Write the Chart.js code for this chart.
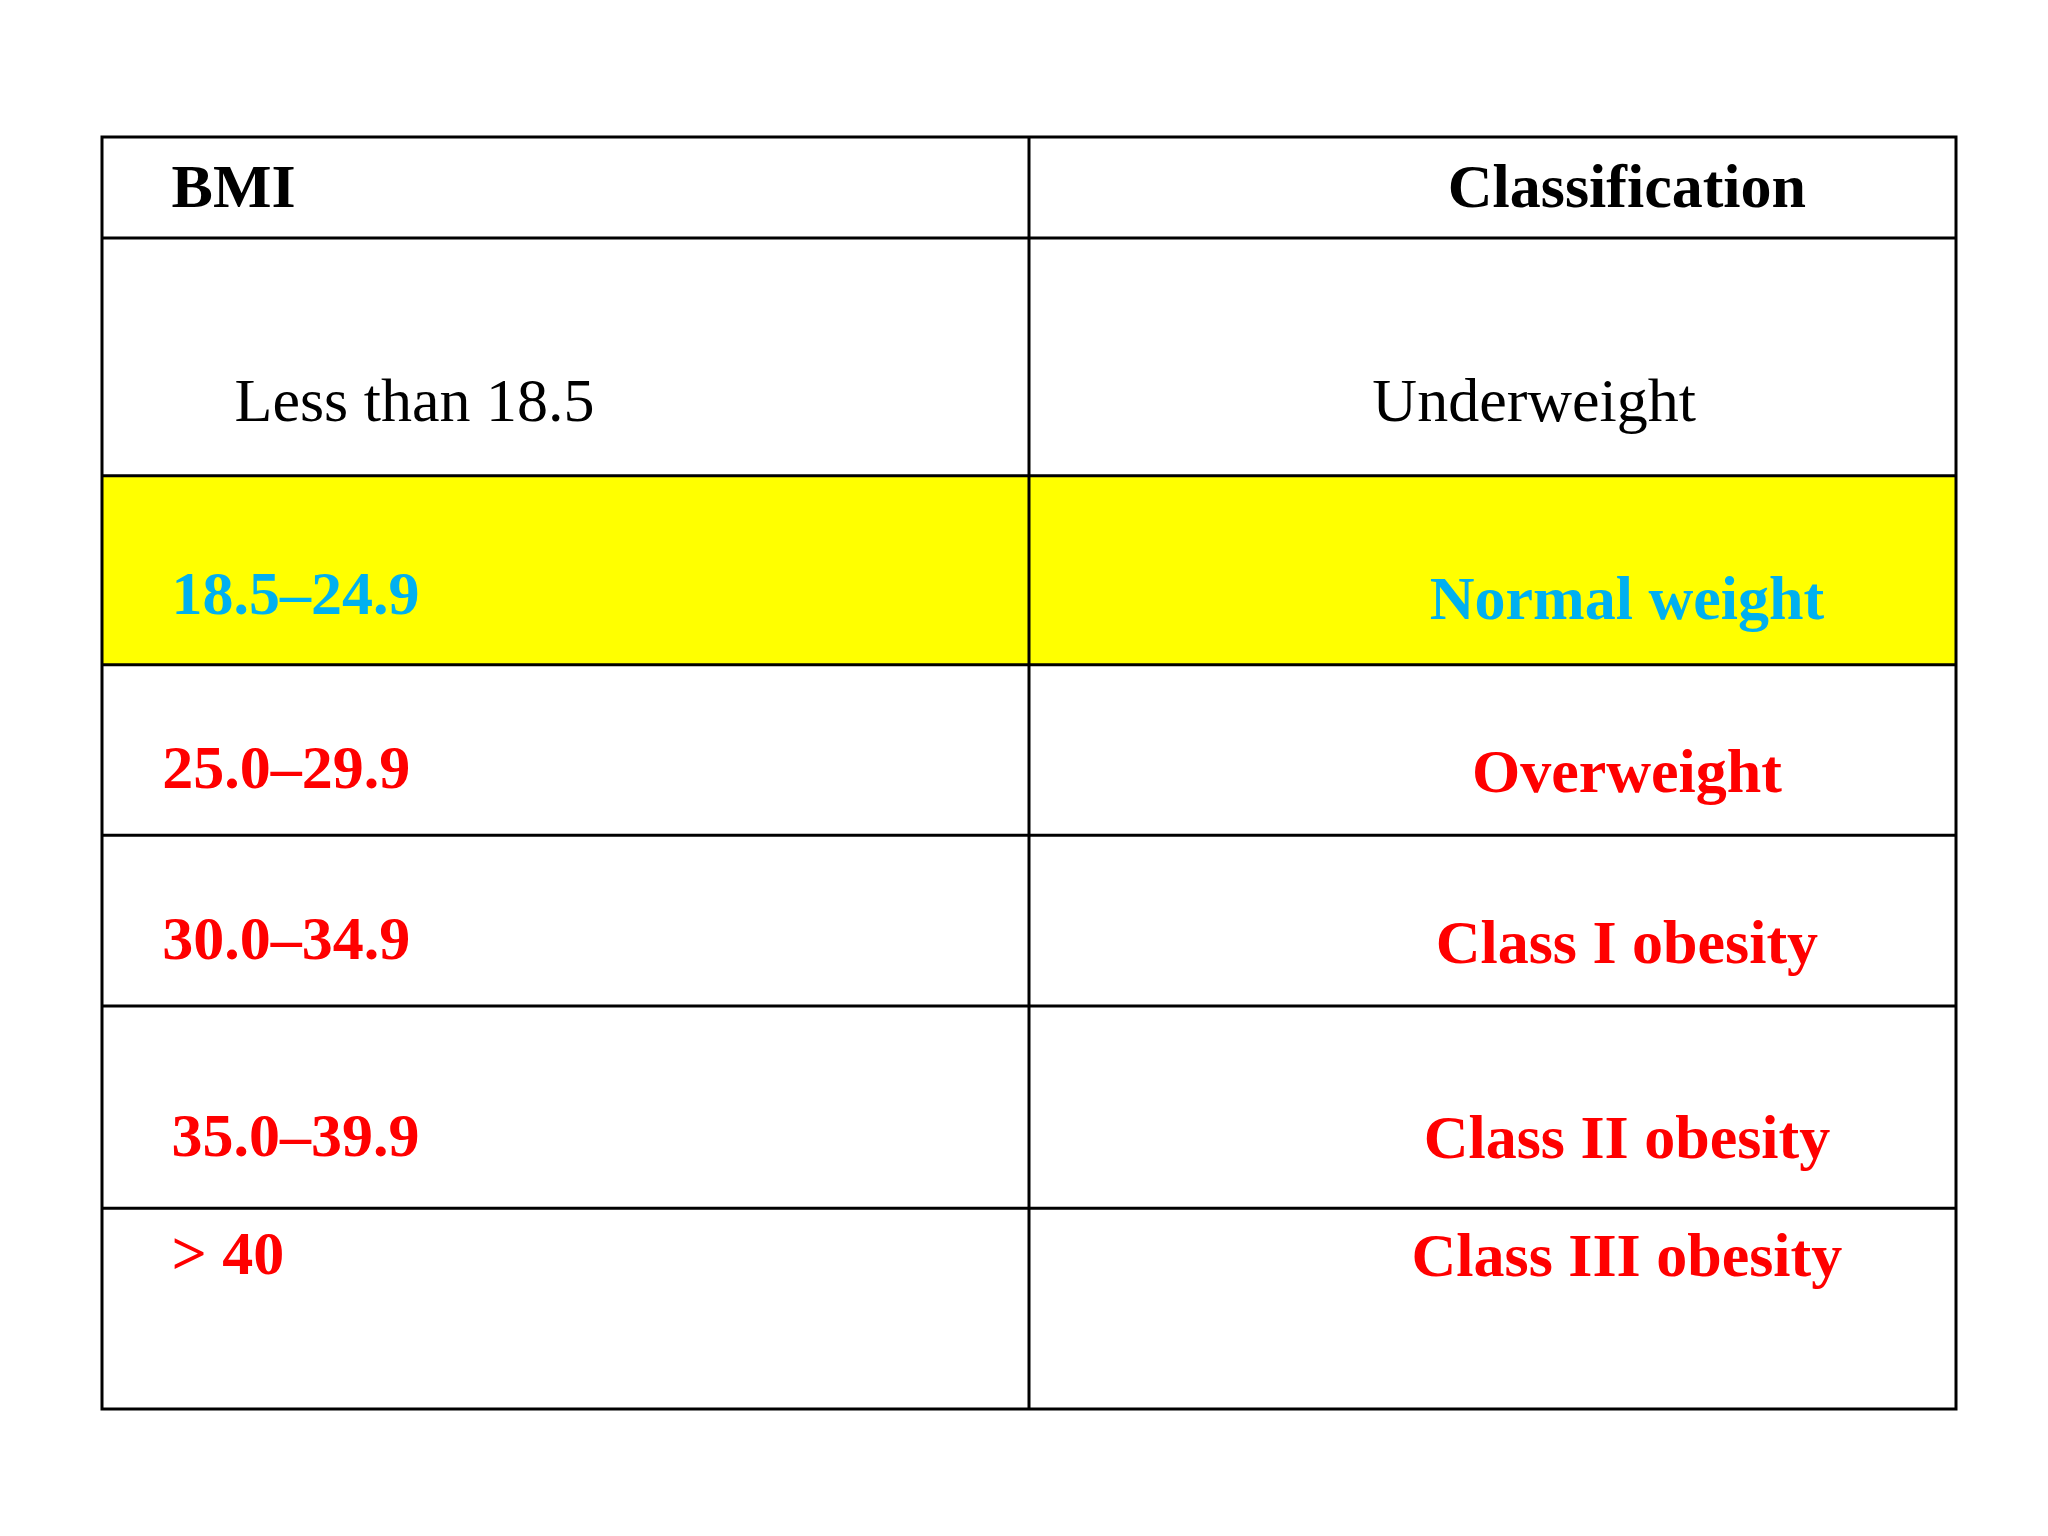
<!DOCTYPE html>
<html><head><meta charset="utf-8">
<script src="https://cdn.jsdelivr.net/npm/chart.js@4"></script>
<style>html,body{margin:0;padding:0;background:#fff}#c{display:block}</style>
</head><body>
<canvas id="c" width="2048" height="1536"></canvas>
<script>
const headers = ["BMI", "Classification"];
const bmiRanges = ["Less than 18.5", "18.5–24.9", "25.0–29.9", "30.0–34.9", "35.0–39.9", "> 40"];
const classes = ["Underweight", "Normal weight", "Overweight", "Class I obesity", "Class II obesity", "Class III obesity"];
const textColors = ["#000000", "#00b0f0", "#ff0000", "#ff0000", "#ff0000", "#ff0000"];
const rowFills = ["#ffffff", "#ffff00", "#ffffff", "#ffffff", "#ffffff", "#ffffff"];

// layout (row boundaries in table units, text placement)
const rowEdges = [0, 77, 258, 402, 532, 662, 816, 969];
const leftX = [0.075, 0.143, 0.075, 0.065, 0.065, 0.075, 0.075];
const rightX = [1.645, 1.545, 1.645, 1.645, 1.645, 1.645, 1.645];
const baseL = [53, 216, 363, 496, 626, 776, 866];
const baseR = [53, 216, 367, 499, 629, 778, 868];

const tablePlugin = {
  id: 'table',
  afterDraw(chart) {
    const {ctx, scales: {x, y}} = chart;
    const X = v => x.getPixelForValue(v), Y = v => y.getPixelForValue(v);
    ctx.save();
    for (let i = 0; i < rowFills.length; i++) {
      ctx.fillStyle = rowFills[i];
      ctx.fillRect(X(0), Y(rowEdges[i+1]), X(2)-X(0), Y(rowEdges[i+2])-Y(rowEdges[i+1]));
    }
    ctx.strokeStyle = '#000'; ctx.lineWidth = 3;
    ctx.strokeRect(X(0), Y(0), X(2)-X(0), Y(rowEdges[rowEdges.length-1])-Y(0));
    ctx.beginPath();
    for (let i = 1; i < rowEdges.length-1; i++) { ctx.moveTo(X(0), Y(rowEdges[i])); ctx.lineTo(X(2), Y(rowEdges[i])); }
    ctx.moveTo(X(1), Y(0)); ctx.lineTo(X(1), Y(rowEdges[rowEdges.length-1]));
    ctx.stroke();
    ctx.textBaseline = 'alphabetic';
    const rowsL = [headers[0], ...bmiRanges], rowsR = [headers[1], ...classes];
    const cols = ['#000', ...textColors];
    for (let i = 0; i < rowsL.length; i++) {
      const bold = i !== 1;
      ctx.font = (bold ? 'bold ' : '') + '62px "Liberation Serif"';
      ctx.fillStyle = cols[i];
      ctx.textAlign = 'left';
      ctx.fillText(rowsL[i], X(leftX[i]), Y(baseL[i]));
      ctx.textAlign = 'center';
      ctx.fillText(rowsR[i], X(rightX[i]), Y(baseR[i]));
    }
    ctx.restore();
  }
};

new Chart(document.getElementById('c'), {
  type: 'scatter',
  data: { datasets: [{ data: [] }] },
  options: {
    responsive: false, animation: false, devicePixelRatio: 1,
    layout: { padding: { left: 102, right: 92, top: 137, bottom: 127 } },
    plugins: { legend: { display: false }, tooltip: { enabled: false } },
    scales: {
      x: { type: 'linear', min: 0, max: 2, display: false },
      y: { type: 'linear', min: 0, max: 969, reverse: true, display: false }
    }
  },
  plugins: [tablePlugin]
});
</script>
</body></html>
